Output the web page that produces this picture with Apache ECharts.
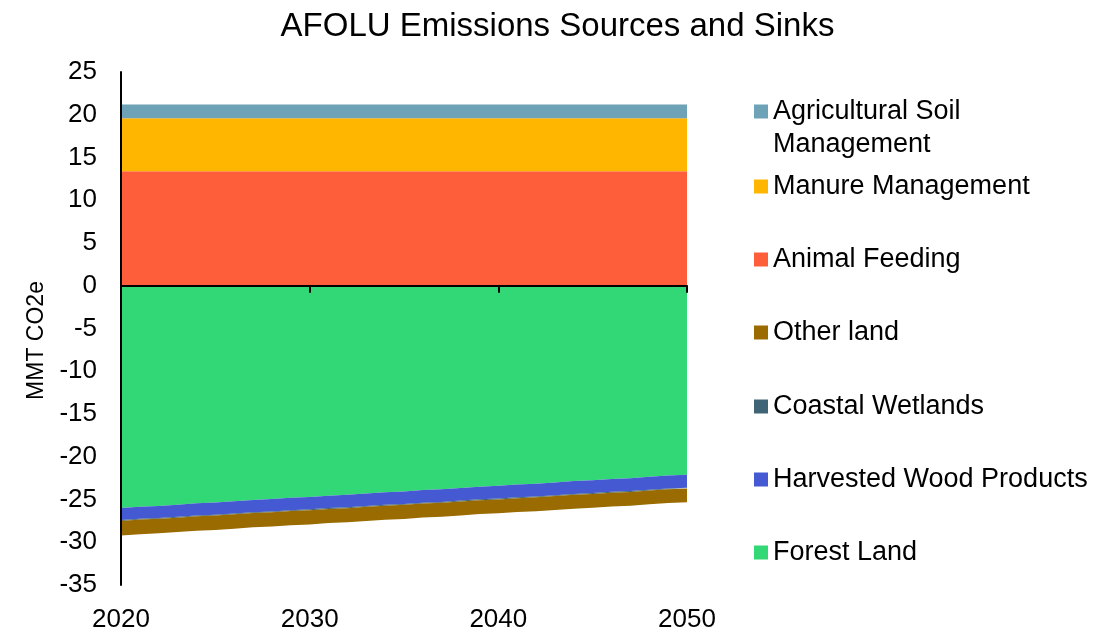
<!DOCTYPE html>
<html lang="en">
<head>
    <meta charset="UTF-8" />
    <title>AFOLU Emissions Sources and Sinks</title>
    <script src="https://cdn.jsdelivr.net/npm/echarts@6/dist/echarts.min.js"></script>
    <style>
        html, body { margin: 0; padding: 0; background: #fff; }
        #main { width: 1115px; height: 633px; }
    </style>
</head>
<body>
<div id="main"></div>
<script type="text/javascript">
    // years on the x axis
    var years = ['2020', '2021', '2022', '2023', '2024', '2025', '2026', '2027', '2028', '2029',
                 '2030', '2031', '2032', '2033', '2034', '2035', '2036', '2037', '2038', '2039',
                 '2040', '2041', '2042', '2043', '2044', '2045', '2046', '2047', '2048', '2049', '2050'];

    // sinks (negative)
    var forestLand = [-26.0, -25.85, -25.75, -25.6, -25.45, -25.35, -25.2, -25.05, -24.95, -24.8,
                      -24.7, -24.55, -24.45, -24.3, -24.15, -24.05, -23.9, -23.8, -23.65, -23.5,
                      -23.4, -23.25, -23.15, -23.0, -22.85, -22.75, -22.6, -22.5, -22.35, -22.2, -22.1];
    var harvestedWood = [-1.40, -1.40, -1.41, -1.42, -1.42, -1.43, -1.43, -1.44, -1.44, -1.45,
                         -1.45, -1.45, -1.46, -1.46, -1.47, -1.47, -1.47, -1.48, -1.48, -1.48,
                         -1.49, -1.49, -1.49, -1.50, -1.50, -1.50, -1.50, -1.51, -1.51, -1.51, -1.52];
    var coastalWetlands = [-0.1, -0.1, -0.1, -0.1, -0.1, -0.1, -0.1, -0.1, -0.1, -0.1,
                           -0.1, -0.1, -0.1, -0.1, -0.1, -0.1, -0.1, -0.1, -0.1, -0.1,
                           -0.1, -0.1, -0.1, -0.1, -0.1, -0.1, -0.1, -0.1, -0.1, -0.1, -0.1];
    var otherLand = [-1.70, -1.70, -1.69, -1.69, -1.68, -1.68, -1.68, -1.67, -1.67, -1.67,
                     -1.66, -1.66, -1.66, -1.65, -1.65, -1.65, -1.64, -1.64, -1.64, -1.63,
                     -1.63, -1.63, -1.62, -1.62, -1.62, -1.61, -1.61, -1.61, -1.60, -1.60, -1.60];

    // sources (positive)
    var animalFeeding = [13.4, 13.4, 13.4, 13.4, 13.4, 13.4, 13.4, 13.4, 13.4, 13.4,
                         13.4, 13.4, 13.4, 13.4, 13.4, 13.4, 13.4, 13.4, 13.4, 13.4,
                         13.4, 13.4, 13.4, 13.4, 13.4, 13.4, 13.4, 13.4, 13.4, 13.4, 13.4];
    var manureMgmt = [6.2, 6.2, 6.2, 6.2, 6.2, 6.2, 6.2, 6.2, 6.2, 6.2,
                      6.2, 6.2, 6.2, 6.2, 6.2, 6.2, 6.2, 6.2, 6.2, 6.2,
                      6.2, 6.2, 6.2, 6.2, 6.2, 6.2, 6.2, 6.2, 6.2, 6.2, 6.2];
    var agSoilMgmt = [1.6, 1.6, 1.6, 1.6, 1.6, 1.6, 1.6, 1.6, 1.6, 1.6,
                      1.6, 1.6, 1.6, 1.6, 1.6, 1.6, 1.6, 1.6, 1.6, 1.6,
                      1.6, 1.6, 1.6, 1.6, 1.6, 1.6, 1.6, 1.6, 1.6, 1.6, 1.6];

    var legendNames = ['Agricultural Soil Management', 'Manure Management', 'Animal Feeding',
                       'Other land', 'Coastal Wetlands', 'Harvested Wood Products', 'Forest Land'];

    var font = 'Arial, "Liberation Sans", sans-serif';

    function area(name, vals, color) {
        return {
            name: name,
            type: 'line',
            stack: 'total',
            symbol: 'none',
            lineStyle: { width: 0 },
            itemStyle: { color: color },
            areaStyle: { color: color, opacity: 1 },
            data: vals
        };
    }

    // one legend per entry so the uneven spacing can be matched
    var legendCenters = [111, 186, 259, 332, 406, 479, 552];
    var legends = [];
    for (var k = 0; k < legendNames.length; k++) {
        var first = (k === 0);
        legends.push({
            data: [legendNames[k]],
            left: 754,
            top: first ? legendCenters[k] - 49 : legendCenters[k] - 16,
            padding: 0,
            itemWidth: 14,
            itemHeight: 14,
            icon: 'rect',
            selectedMode: false,
            formatter: first ? function () { return '\nAgricultural Soil\nManagement'; } : '{name}',
            textStyle: { fontSize: 27, lineHeight: 33, color: '#000', fontFamily: font }
        });
    }

    var myChart = echarts.init(document.getElementById('main'));
    var option = {
        animation: false,
        title: {
            text: 'AFOLU Emissions Sources and Sinks',
            left: 'center',
            top: 5,
            textStyle: { fontSize: 33, fontWeight: 'normal', color: '#000', fontFamily: font }
        },
        legend: legends,
        grid: { left: 121, right: 428, top: 72, bottom: 45 },
        xAxis: [
            {
                // zero line with ticks hanging down into the sinks
                type: 'category',
                data: years,
                boundaryGap: false,
                position: 'top',
                z: 10,
                axisLine: { onZero: true, lineStyle: { color: '#000', width: 2 } },
                axisTick: { show: true, inside: true, interval: 9, length: 7, lineStyle: { color: '#000', width: 2 } },
                axisLabel: { show: false },
                splitLine: { show: false }
            },
            {
                type: 'category',
                data: years,
                boundaryGap: false,
                position: 'bottom',
                axisLine: { show: false, onZero: false },
                axisTick: { show: false },
                axisLabel: { interval: 9, margin: 22, fontSize: 26, color: '#000', fontFamily: font },
                splitLine: { show: false }
            }
        ],
        yAxis: {
            type: 'value',
            min: -35, max: 25, interval: 5,
            z: 10,
            name: 'MMT CO2e',
            nameLocation: 'middle',
            nameRotate: 90,
            nameGap: 71,
            nameTextStyle: { fontSize: 23, color: '#000', fontFamily: font, padding: [0, 24, 0, 0] },
            axisLine: { show: true, lineStyle: { color: '#000', width: 2 } },
            axisTick: { show: false },
            axisLabel: { margin: 24, fontSize: 26, color: '#000', fontFamily: font },
            splitLine: { show: false }
        },
        series: [
            area('Forest Land', forestLand, '#32d875'),
            area('Harvested Wood Products', harvestedWood, '#4459d2'),
            area('Coastal Wetlands', coastalWetlands, '#3f6475'),
            area('Other land', otherLand, '#996b00'),
            area('Animal Feeding', animalFeeding, '#ff5e3a'),
            area('Manure Management', manureMgmt, '#ffb600'),
            area('Agricultural Soil Management', agSoilMgmt, '#6ea2b6')
        ]
    };
    myChart.setOption(option);
</script>
</body>
</html>
